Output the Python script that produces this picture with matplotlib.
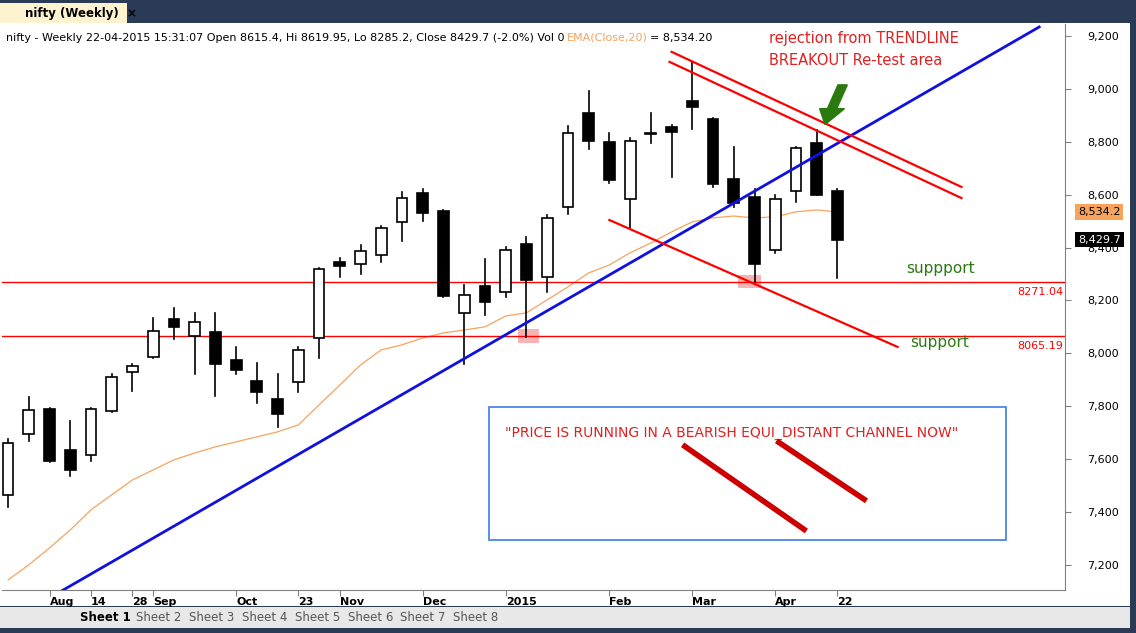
import matplotlib.pyplot as plt
from matplotlib.patches import Rectangle, FancyArrow

# weekly nifty candles (index 0 = first visible week)
opens = [7465, 7695, 7790, 7635, 7616, 7782, 7930, 7986, 8130, 8066, 8081, 7975, 7896, 7827,
         7892, 8058, 8345, 8338, 8372, 8497, 8606, 8538, 8153, 8255, 8232, 8414, 8289, 8553,
         8909, 8799, 8584, 8833, 8856, 8954, 8886, 8659, 8591, 8391, 8614, 8795, 8615.4]
highs = [7676, 7835, 7794, 7744, 7794, 7922, 7960, 8134, 8172, 8153, 8153, 8024, 7964, 7922,
         8024, 8323, 8361, 8410, 8482, 8610, 8622, 8540, 8259, 8357, 8402, 8440, 8523, 8860,
         8992, 8833, 8814, 8909, 8864, 9102, 8890, 8780, 8622, 8599, 8780, 8845, 8619.95]
lows = [7419, 7669, 7590, 7536, 7593, 7778, 7858, 7982, 8054, 7922, 7839, 7922, 7812, 7722,
        7854, 7982, 8289, 8300, 8345, 8425, 8500, 8213, 7960, 8145, 8213, 8062, 8232, 8527,
        8773, 8644, 8474, 8795, 8667, 8848, 8629, 8553, 8270, 8380, 8572, 8597, 8285.2]
closes = [7661, 7786, 7593, 7559, 7790, 7911, 7952, 8085, 8100, 8119, 7960, 7937, 7854, 7771,
          8013, 8319, 8330, 8387, 8474, 8587, 8531, 8217, 8221, 8194, 8391, 8277, 8512, 8833,
          8803, 8656, 8803, 8830, 8837, 8932, 8640, 8569, 8338, 8584, 8777, 8599, 8429.7]
ema20 = [7143, 7200, 7264, 7332, 7408, 7465, 7521, 7559, 7597, 7623, 7646, 7665, 7684, 7703,
         7729, 7805, 7880, 7956, 8013, 8032, 8058, 8077, 8088, 8100, 8141, 8153, 8202, 8251,
         8304, 8334, 8380, 8417, 8459, 8497, 8512, 8519, 8512, 8516, 8535, 8542, 8534.2]

tick_pos = [2, 4, 6, 7, 11, 14, 16, 20, 24, 29, 33, 37, 40]
tick_labels = ['Aug', '14', '28', 'Sep', 'Oct', '23', 'Nov', 'Dec', '2015', 'Feb', 'Mar', 'Apr', '22']
price_ticks = [7200, 7400, 7600, 7800, 8000, 8200, 8400, 8600, 8800, 9000, 9200]
support_levels = [8271.04, 8065.19]

fig = plt.figure(figsize=(11.36, 6.33), dpi=100)
fig.patch.set_facecolor('#2b3a55')

# white chart panel incl. price axis strip
fig.add_artist(Rectangle((0.0, 0.042), 0.995, 0.921, transform=fig.transFigure,
                         facecolor='white', edgecolor='none', zorder=0))
ax = fig.add_axes([0.0018, 0.068, 0.936, 0.894])
ax.set_facecolor('white')
ax.set_xlim(-0.29, 50.99)
ax.set_ylim(7105, 9245)

w = 0.52
for i, (o, h, l, c) in enumerate(zip(opens, highs, lows, closes)):
    ax.plot([i, i], [l, h], color='black', lw=1.2, zorder=3)
    face = 'white' if c >= o else 'black'
    ax.add_patch(Rectangle((i - w / 2, min(o, c)), w, max(abs(c - o), 4),
                           facecolor=face, edgecolor='black', lw=1.2, zorder=4))

ax.plot(range(len(ema20)), ema20, color='#f7a35c', lw=0.9, zorder=2)

for lvl in support_levels:
    ax.axhline(lvl, color='red', lw=1, zorder=2)
    ax.text(50.9, lvl - 20, f'{lvl:.2f}', color='red', fontsize=8, ha='right', va='top')

# trend line and channel
ax.plot([2.51, 49.73], [7098, 9234], color='#1010e0', lw=2, zorder=5)
ax.plot([32.0, 45.98], [9140, 8629], color='red', lw=1.6, zorder=5)
ax.plot([31.9, 45.98], [9102, 8587], color='red', lw=1.6, zorder=5)
ax.plot([29.0, 42.9], [8504, 8024], color='red', lw=1.6, zorder=5)
ax.add_patch(Rectangle((24.6, 8040), 1.0, 50, facecolor='#f4a0a0', alpha=0.8, zorder=1))
ax.add_patch(Rectangle((35.2, 8245), 1.1, 50, facecolor='#f4a0a0', alpha=0.8, zorder=1))

ax.add_patch(Rectangle((23.18, 7294), 24.96, 503, facecolor='none', edgecolor='#4a86e8', lw=1.3, zorder=5))
ax.text(23.95, 7700, '"PRICE IS RUNNING IN A BEARISH EQUI_DISTANT CHANNEL NOW"',
        color='#e02020', fontsize=10, va='center')
ax.plot([32.53, 38.5], [7654, 7328], color='#cc0000', lw=4, solid_capstyle='butt', zorder=5)
ax.plot([37.06, 41.4], [7669, 7442], color='#cc0000', lw=4, solid_capstyle='butt', zorder=5)

ax.text(36.7, 9150, 'rejection from TRENDLINE\nBREAKOUT Re-test area', color='#e02020',
        fontsize=10.5, va='center', linespacing=1.6)
ax.add_patch(FancyArrow(40.25, 9015, -0.85, -150, width=0.45, head_width=1.2, head_length=60,
                        length_includes_head=True, color='#2a7a10', zorder=6))
ax.text(43.3, 8320, 'suppport', color='#2a7a10', fontsize=11, ha='left', va='center')
ax.text(43.5, 8040, 'support', color='#2a7a10', fontsize=11, ha='left', va='center')

ax.text(0.004, 0.985, 'nifty - Weekly 22-04-2015 15:31:07 Open 8615.4, Hi 8619.95, Lo 8285.2, '
        'Close 8429.7 (-2.0%) Vol 0', transform=ax.transAxes, fontsize=8, va='top')
ax.text(0.531, 0.985, 'EMA(Close,20)', transform=ax.transAxes, fontsize=8, va='top', color='#f7a35c')
ax.text(0.609, 0.985, '= 8,534.20', transform=ax.transAxes, fontsize=8, va='top')

ax.yaxis.tick_right()
ax.set_yticks(price_ticks)
ax.set_yticklabels([f'{p:,}' for p in price_ticks], fontsize=8)
ax.tick_params(axis='y', length=4, pad=12, color='gray')
ax.set_xticks(tick_pos)
ax.set_xticklabels(tick_labels, fontsize=8, fontweight='bold', ha='left')
ax.tick_params(axis='x', length=4, pad=1, color='gray')
for s in ['top', 'left']:
    ax.spines[s].set_visible(False)
ax.spines['right'].set_color('gray')
ax.spines['bottom'].set_color('gray')

ax.text(1.012, (8534.2 - 7105) / 2140, '8,534.2', transform=ax.transAxes, fontsize=8, va='center',
        bbox=dict(facecolor='#f7a35c', edgecolor='none', pad=2))
ax.text(1.012, (8429.7 - 7105) / 2140, '8,429.7', transform=ax.transAxes, fontsize=8, va='center',
        color='white', bbox=dict(facecolor='black', edgecolor='none', pad=2))

# window chrome
fig.add_artist(Rectangle((0.0, 0.963), 0.112, 0.032, transform=fig.transFigure,
                         facecolor='#fdf3d0', edgecolor='none'))
fig.text(0.022, 0.978, 'nifty (Weekly)  ×', fontsize=8.5, fontweight='bold', va='center')
fig.add_artist(Rectangle((0.0, 0.008), 0.995, 0.033, transform=fig.transFigure,
                         facecolor='#e8e8e8', edgecolor='none'))
fig.text(0.07, 0.025, 'Sheet 1', fontsize=8.5, fontweight='bold', va='center')
for k in range(2, 9):
    fig.text(0.12 + (k - 2) * 0.0465, 0.025, f'Sheet {k}', fontsize=8.5, color='#555555', va='center')

fig.savefig('out.png', dpi=100, facecolor=fig.get_facecolor())
